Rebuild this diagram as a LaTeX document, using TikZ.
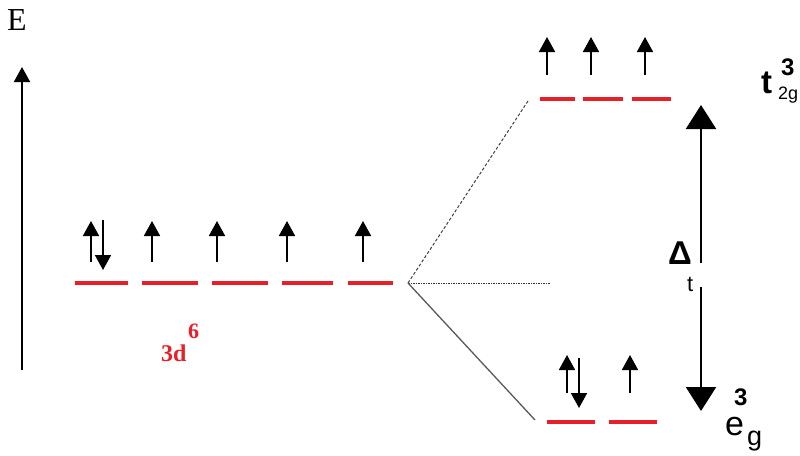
\documentclass[tikz,border=0pt]{standalone}
\usepackage{fontspec}
\setmainfont{Liberation Serif}
\newfontfamily\arialfont{Liberation Sans}
\usepackage{xcolor}
\usetikzlibrary{arrows.meta}
\definecolor{levelred}{RGB}{232,30,40}

\tikzset{
  level/.style={levelred,line width=4pt},
  spin/.style={line width=1.8pt,-{Triangle[length=15pt,width=16pt]}},
  bigtip/.style={line width=2.2pt,-{Triangle[length=24pt,width=30pt]}},
}

\begin{document}
\begin{tikzpicture}[x=1pt,y=-1pt]
\useasboundingbox (0,0) rectangle (800,455);
% energy axis
\coordinate (ebot) at (22,370);
\coordinate (etop) at (22,67);
\draw[line width=2pt,-{Triangle[length=15pt,width=16pt]}] (ebot) -- (etop);
\node[anchor=base west,inner sep=0pt,font=\fontsize{32}{32}\selectfont] (elab) at (7,30) {E};
% free ion 3d levels
\foreach \xa/\xb [count=\i] in {75/128,142/198,212/268,282/333,348/393}
  \draw[level] (\xa,283) -- (\xb,283);
\draw[spin] (91,262) -- (91,221);
\draw[spin] (103,220) -- (103,270);
\foreach \x in {152,217,287,363}
  \draw[spin] (\x,262) -- (\x,221);
\node[anchor=base west,inner sep=0pt,levelred,font=\bfseries\fontsize{24}{24}\selectfont] (dlab) at (161,361) {3d};
\node[anchor=base west,inner sep=0pt,levelred,font=\bfseries\fontsize{22}{22}\selectfont] (dsup) at (188,338) {6};
% splitting
\coordinate (ion) at (408,283);
\coordinate (tend) at (528,101);
\coordinate (mend) at (550,283);
\coordinate (eend) at (535,420);
\draw[black!75,line width=1pt,densely dashed] (ion) -- (tend);
\draw[black!80,line width=1pt,dash pattern=on 1.5pt off 1pt] (ion) -- (mend);
\draw[black!65,line width=1.3pt] (ion) -- (eend);
% t2g set
\foreach \xa/\xb in {540/575,583/623,632/671}
  \draw[level] (\xa,99) -- (\xb,99);
\foreach \x in {547,591,645}
  \draw[spin] (\x,75) -- (\x,37);
\node[anchor=base west,inner sep=0pt,font=\arialfont\bfseries\fontsize{33}{33}\selectfont] (tlab) at (761,93) {t};
\node[anchor=base west,inner sep=0pt,font=\arialfont\fontsize{18}{18}\selectfont] (tsub) at (778,99) {2g};
\node[anchor=base west,inner sep=0pt,font=\arialfont\bfseries\fontsize{24}{24}\selectfont] (tsup) at (781,75) {3};
% eg set
\foreach \xa/\xb in {547/595,609/657}
  \draw[level] (\xa,422) -- (\xb,422);
\draw[spin] (567,393) -- (567,355);
\draw[spin] (579,358) -- (579,408);
\draw[spin] (630,393) -- (630,355);
\node[anchor=base west,inner sep=0pt,font=\arialfont\fontsize{34}{34}\selectfont] (elab2) at (725,435) {e};
\node[anchor=base west,inner sep=0pt,font=\arialfont\fontsize{27}{27}\selectfont] (esub) at (747,445) {g};
\node[anchor=base west,inner sep=0pt,font=\arialfont\bfseries\fontsize{24}{24}\selectfont] (esup) at (734,405) {3};
% splitting energy
\coordinate (dtop) at (701,105);
\coordinate (gapt) at (701,263);
\coordinate (gapb) at (701,287);
\coordinate (dbot) at (701,411);
\draw[bigtip] (gapt) -- (dtop);
\draw[bigtip] (gapb) -- (dbot);
\node[anchor=base west,inner sep=0pt,font=\arialfont\bfseries\fontsize{33}{33}\selectfont] (dlt) at (668,264) {Δ};
\node[anchor=base west,inner sep=0pt,font=\arialfont\fontsize{22}{22}\selectfont] (dsub) at (687,291) {t};
\end{tikzpicture}
\end{document}
